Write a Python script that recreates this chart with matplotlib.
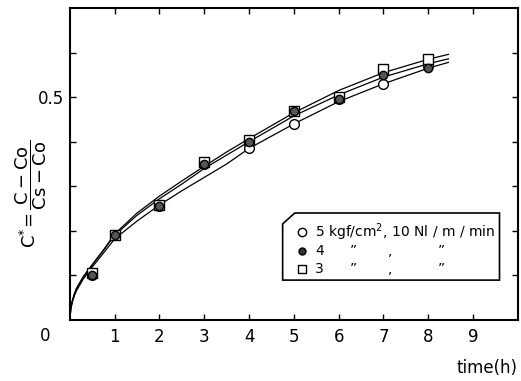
import matplotlib
matplotlib.use("Agg")
import matplotlib.pyplot as plt
from matplotlib.patches import Polygon

plt.rcParams['mathtext.default'] = 'regular'
plt.rcParams['font.family'] = 'DejaVu Sans'

# measured points (time in h, C*)
t_pts = [0.5, 1, 2, 3, 4, 5, 6, 7, 8]
c_5kgf = [0.100, 0.190, 0.255, 0.350, 0.385, 0.440, 0.495, 0.530, 0.570]
c_4kgf = [0.100, 0.190, 0.255, 0.350, 0.400, 0.470, 0.495, 0.550, 0.565]
c_3kgf = [0.105, 0.190, 0.258, 0.355, 0.405, 0.470, 0.500, 0.563, 0.585]

# fitted curves
t_fit = [0, 0.02, 0.05, 0.1, 0.15, 0.3, 0.5, 0.75, 1, 1.5, 2, 2.5, 3, 3.5, 4, 5, 6, 7, 8, 8.45]
fit_5kgf = [0, 0.022, 0.038, 0.054, 0.066, 0.092, 0.119, 0.150, 0.182, 0.222, 0.258, 0.290,
            0.320, 0.350, 0.385, 0.440, 0.490, 0.530, 0.565, 0.578]
fit_4kgf = [0, 0.024, 0.041, 0.058, 0.071, 0.097, 0.124, 0.156, 0.190, 0.235, 0.272, 0.305,
            0.340, 0.370, 0.400, 0.458, 0.505, 0.545, 0.575, 0.586]
fit_3kgf = [0, 0.024, 0.041, 0.058, 0.071, 0.097, 0.124, 0.157, 0.193, 0.240, 0.278, 0.312,
            0.345, 0.377, 0.407, 0.465, 0.515, 0.555, 0.585, 0.596]

xticks = [1, 2, 3, 4, 5, 6, 7, 8, 9]
yticks = [0.1, 0.2, 0.3, 0.4, 0.5, 0.6]

fig = plt.figure(figsize=(5.21, 3.81), dpi=100)
ax = fig.add_axes([0.134, 0.160, 0.860, 0.819])

ax.plot(t_fit, fit_5kgf, color='black', lw=0.9)
ax.plot(t_fit, fit_4kgf, color='black', lw=0.9)
ax.plot(t_fit, fit_3kgf, color='black', lw=0.9)

ax.plot(t_pts, c_5kgf, 'o', ms=7, mfc='white', mec='black', mew=1)
ax.plot(t_pts, c_3kgf, 's', ms=7, mfc='white', mec='black', mew=1)
ax.plot(t_pts, c_4kgf, 'o', ms=6, mfc='#555555', mec='black', mew=1)

ax.set_xlim(0, 10)
ax.set_ylim(0, 0.7)
ax.set_xticks(xticks)
ax.set_xticklabels([str(v) for v in xticks], fontsize=12)
ax.set_yticks(yticks)
ax.set_yticklabels(['' if v != 0.5 else '0.5' for v in yticks], fontsize=12)
ax.tick_params(direction='in', length=4, width=1, top=True, right=True, pad=6)
ax.tick_params(axis='y', pad=4)
for s in ax.spines.values():
    s.set_linewidth(1.5)

ax.text(-0.056, -0.051, '0', transform=ax.transAxes, ha='center', va='center', fontsize=12)
ax.text(1.0, -0.154, 'time(h)', transform=ax.transAxes, ha='right', va='center', fontsize=12)
fig.text(0.060, 0.49, r'$C^{*}\!=\dfrac{C-Co}{Cs-Co}$', rotation=90, ha='center', va='center',
         fontsize=13)

# legend box with cut corner
tr = ax.transAxes
bx0, bx1, by0, by1 = 0.475, 0.959, 0.128, 0.343
box = Polygon([(bx0, by0), (bx0, by1 - 0.035), (bx0 + 0.027, by1), (bx1, by1), (bx1, by0)],
              closed=True, fill=False, lw=1.2, transform=tr)
ax.add_patch(box)
rows = [0.281, 0.220, 0.163]
ax.plot(0.518, rows[0], 'o', ms=6, mfc='white', mec='black', transform=tr)
ax.plot(0.518, rows[1], 'o', ms=5, mfc='#333333', mec='black', transform=tr)
ax.plot(0.518, rows[2], 's', ms=6, mfc='white', mec='black', transform=tr)
ax.text(0.548, rows[0], r'5 kgf/cm$^2$, 10 Nl / m / min', transform=tr, va='center', fontsize=10)
for r, lab in zip(rows[1:], ['4', '3']):
    ax.text(0.548, r, lab, transform=tr, va='center', fontsize=10)
    ax.text(0.625, r, '\u201d', transform=tr, va='center', fontsize=10)
    ax.text(0.71, r, ',', transform=tr, va='center', fontsize=10)
    ax.text(0.822, r, '\u201d', transform=tr, va='center', fontsize=10)

fig.savefig('out.png', dpi=100)
